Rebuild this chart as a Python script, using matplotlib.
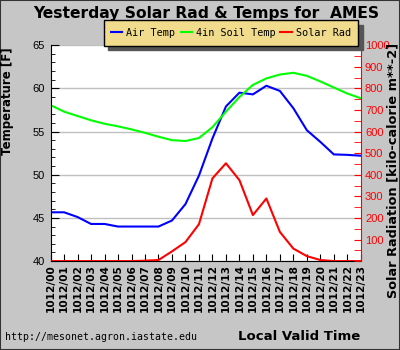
import matplotlib.pyplot as plt
from matplotlib.patches import Rectangle
from matplotlib.ticker import MultipleLocator

# Dados (uma leitura por hora)
horas = ['1012/%02d' % h for h in range(24)]
temp_ar = [45.65, 45.65, 45.1, 44.3, 44.3, 44.0, 44.0, 44.0, 44.0, 44.7, 46.6, 49.9,
           54.2, 57.9, 59.5, 59.3, 60.3, 59.7, 57.7, 55.15, 53.8, 52.35, 52.3, 52.2]
temp_solo = [58.05, 57.3, 56.8, 56.3, 55.9, 55.6, 55.25, 54.85, 54.4, 54.0, 53.9, 54.25,
             55.5, 57.3, 59.0, 60.4, 61.15, 61.6, 61.8, 61.45, 60.8, 60.1, 59.4, 58.85]
rad_solar = [0, 0, 0, 0, 0, 0, 0, 2, 5, 45, 88, 171,
             383, 453, 375, 213, 290, 135, 58, 23, 5, 0, 0, 0]

cinza = '#c6c6c6'
fig = plt.figure(figsize=(4, 3.5), dpi=100, facecolor=cinza)
ax = fig.add_axes([0.1265, 0.254, 0.7755, 0.617])
ax2 = ax.twinx()

x = list(range(len(horas)))
l1, = ax.plot(x, temp_ar, color='#0000ff', lw=1.5, label='Air Temp')
l2, = ax.plot(x, temp_solo, color='#00ff00', lw=1.5, label='4in Soil Temp')
l3, = ax2.plot(x, rad_solar, color='#ff0000', lw=1.5, label='Solar Rad')

ax.set_xlim(0, 23)
ax.set_ylim(40, 65)
ax2.set_ylim(0, 1000)

# Eixo esquerdo
ax.yaxis.set_major_locator(MultipleLocator(5))
ax.yaxis.set_minor_locator(MultipleLocator(1))
ax.tick_params(axis='y', which='major', direction='in', length=6, pad=4,
               labelsize=8, labelfontfamily='Liberation Sans')
ax.tick_params(axis='y', which='minor', direction='in', length=3)
ax.grid(axis='y', color='#c0c0c0', lw=1)
ax.set_axisbelow(True)

# Eixo x
ax.set_xticks(x)
ax.set_xticklabels(horas, rotation=90, fontsize=7.6, fontweight='bold')
ax.tick_params(axis='x', direction='in', length=5, pad=2)

# Eixo direito
ax2.yaxis.set_minor_locator(MultipleLocator(50))
ax2.set_yticks([100 * i for i in range(1, 11)])
ax2.tick_params(axis='y', which='both', direction='in', length=5, color='red',
                labelcolor='red', labelsize=8, pad=3, labelfontfamily='Liberation Sans')

for a in (ax, ax2):
    a.spines['top'].set_visible(False)
ax2.spines['left'].set_visible(False)
ax2.spines['bottom'].set_visible(False)
ax2.spines['right'].set_color('red')
ax.spines['right'].set_visible(False)

# Títulos e textos
fig.text(0.515, 0.962, 'Yesterday Solar Rad & Temps for  AMES', ha='center', va='center',
         fontsize=11.2, fontweight='bold')
fig.text(0.018, 1 - 47 / 350, 'Temperature [F]', rotation=90, ha='center', va='top',
         fontsize=8.5, fontweight='bold')
fig.text(0.983, 1 - 43 / 350, 'Solar Radiation [kilo-calorie m**-2]', rotation=90,
         ha='center', va='top', fontsize=9.3, fontweight='bold')
fig.text(0.012, 1 - 337 / 350, 'http://mesonet.agron.iastate.edu', ha='left', va='center',
         fontsize=7.1, family='DejaVu Sans Mono')
fig.text(0.9, 1 - 336 / 350, 'Local Valid Time', ha='right', va='center',
         fontsize=9.5, fontweight='bold')

leg = fig.legend(handles=[l1, l2, l3], loc='center', bbox_to_anchor=(231 / 400, 1 - 33 / 350),
                 ncol=3, prop={'family': 'DejaVu Sans Mono', 'size': 7.3},
                 handlelength=1.1, handletextpad=0.4, columnspacing=0.5,
                 borderpad=0.75, fancybox=False, framealpha=1,
                 facecolor='#f0dc8c', edgecolor='black',
                 shadow={'color': '#555555', 'ox': 3, 'oy': -3, 'alpha': 1})
leg.get_frame().set_linewidth(1)

# Moldura da figura
fig.patches.append(Rectangle((0, 0), 1, 1, transform=fig.transFigure, fill=False,
                             edgecolor='#333333', lw=1.5))

plt.savefig('out.png', dpi=100, facecolor=cinza)
plt.close()
